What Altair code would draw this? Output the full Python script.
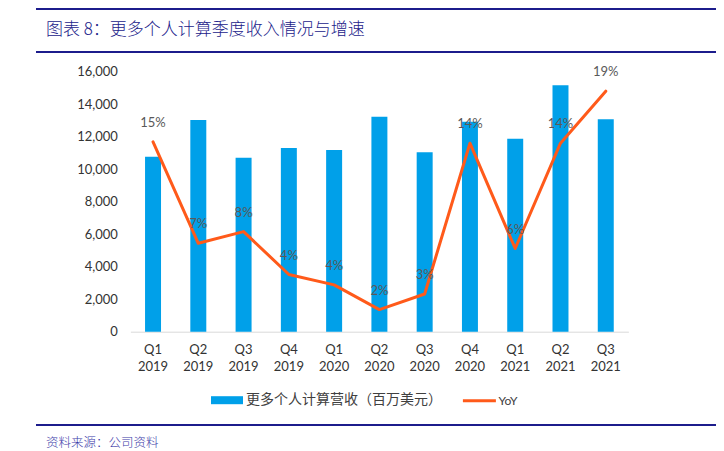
import altair as alt
import pandas as pd

quarters = ["Q1 2019", "Q2 2019", "Q3 2019", "Q4 2019", "Q1 2020", "Q2 2020",
            "Q3 2020", "Q4 2020", "Q1 2021", "Q2 2021", "Q3 2021"]
revenue = [10770, 13030, 10710, 11305, 11180, 13230, 11040, 12920, 11880, 15165, 13070]
yoy = [0.146, 0.068, 0.077, 0.044, 0.036, 0.017, 0.029, 0.145, 0.064, 0.145, 0.185]
yoy_labels = ["15%", "7%", "8%", "4%", "4%", "2%", "3%", "14%", "6%", "14%", "19%"]
y_ticks = [0, 2000, 4000, 6000, 8000, 10000, 12000, 14000, 16000]

bar_series = "更多个人计算营收（百万美元）"
line_series = "YoY"
title_text = "图表 8：更多个人计算季度收入情况与增速"
source_text = "资料来源：公司资料"

df = pd.DataFrame({"q": quarters, "rev": revenue, "yoy": yoy, "lab": yoy_labels,
                   "s1": bar_series, "s2": line_series})
one = pd.DataFrame({"t": [title_text], "s": [source_text]})

W, H = 498, 260
PL, PT = 122.4, 63.7
TOTAL_W, TOTAL_H = 708, 442

BLUE = "#00A0E9"
ORANGE = "#FF5A1A"
NAVY = "#1C1C8C"

x_enc = alt.X(
    "q:N", sort=quarters, title=None,
    scale=alt.Scale(paddingInner=0.647, paddingOuter=0.3235),
    axis=alt.Axis(labelAngle=0, labelExpr="split(datum.label, ' ')", labelFont="Lato",
                  labelFontSize=13, labelColor="#333333", labelLineHeight=17,
                  labelPadding=12, ticks=False, domainColor="#D9D9D9", domainWidth=1,
                  grid=False),
)

base = alt.Chart(df)

bars = base.mark_bar().encode(
    x=x_enc,
    y=alt.Y("rev:Q", title=None, scale=alt.Scale(domain=[0, 16000]),
            axis=alt.Axis(values=y_ticks, format=",.0f", grid=False, domain=False, ticks=False,
                          labelFont="Lato", labelFontSize=13, labelColor="#333333",
                          labelPadding=13)),
    fill=alt.Fill("s1:N", scale=alt.Scale(domain=[bar_series], range=[BLUE]),
                  legend=alt.Legend(title=None, orient="none", legendX=80.6, legendY=312.5,
                                    symbolType="M-1,-0.25H1V0.25H-1Z", symbolSize=1024,
                                    symbolStrokeWidth=0, labelFont="Noto Sans CJK SC",
                                    labelFontSize=14, labelColor="#404040", labelOffset=3,
                                    labelLimit=400, padding=0)),
)

line = base.mark_line(strokeWidth=3, strokeJoin="round", strokeCap="round").encode(
    x=x_enc,
    y=alt.Y("yoy:Q", scale=alt.Scale(domain=[0, 0.2]), axis=None),
    stroke=alt.Stroke("s2:N", scale=alt.Scale(domain=[line_series], range=[ORANGE]),
                      legend=alt.Legend(title=None, orient="none", legendX=331, legendY=311,
                                        symbolType="stroke", symbolSize=1089,
                                        symbolStrokeWidth=3, labelFont="Lato",
                                        labelFontSize=12, labelColor="#404040",
                                        labelOffset=1, labelLimit=200, padding=0)),
)

labels = base.mark_text(dy=-19, fontSize=13, font="Lato", color="#595959").encode(
    x=x_enc,
    y=alt.Y("yoy:Q", scale=alt.Scale(domain=[0, 0.2]), axis=None),
    text="lab:N",
)

deco = alt.Chart(one)
rule_top = deco.mark_rule(color=NAVY, strokeWidth=2).encode(
    x=alt.value(-94.4), x2=alt.value(585.6), y=alt.value(-62.7))
rule_mid = deco.mark_rule(color=NAVY, strokeWidth=2).encode(
    x=alt.value(-94.4), x2=alt.value(585.6), y=alt.value(-19.7))
rule_bot = deco.mark_rule(color=NAVY, strokeWidth=2).encode(
    x=alt.value(-94.4), x2=alt.value(585.6), y=alt.value(353.3))
title = deco.mark_text(align="left", baseline="middle", font="Noto Sans CJK SC",
                       fontSize=17, fontWeight=300, color="#22228A").encode(
    x=alt.value(-84.4), y=alt.value(-41.7), text="t:N")
source = deco.mark_text(align="left", baseline="middle", font="Noto Sans CJK SC",
                        fontSize=12.5, fontWeight=300, color="#3A3AA8").encode(
    x=alt.value(-84.4), y=alt.value(371.3), text="s:N")

chart = alt.layer(bars, line, labels, rule_top, rule_mid, rule_bot, title, source).resolve_scale(
    y="independent"
).properties(
    width=W, height=H,
    background="white",
    autosize=alt.AutoSizeParams(type="none"),
    padding={"left": PL, "top": PT, "right": TOTAL_W - PL - W, "bottom": TOTAL_H - PT - H},
).configure_view(strokeWidth=0)

chart.save("out.html", embed_options={"renderer": "svg", "actions": False})
